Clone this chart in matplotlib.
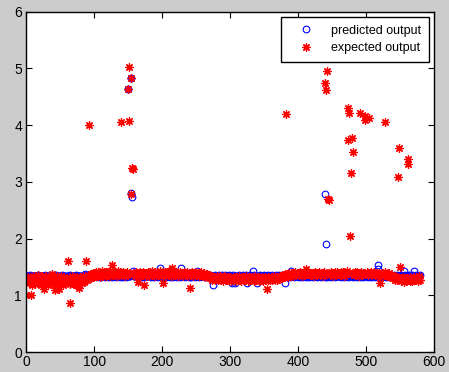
import numpy as np
import matplotlib
matplotlib.use("Agg")
import matplotlib.pyplot as plt

# values in hundredths (value = n / 100), sample index 0..579
expected_h = [
101,130,125,133,128,122,131,101,127,118,135,124,129,120,133,126,130,123,136,128,
125,132,119,134,127,130,122,111,129,135,124,131,126,118,133,128,121,130,137,125,
129,123,132,109,126,134,120,128,131,111,124,135,127,122,130,119,133,126,129,124,
131,161,125,128,120,86,130,123,134,127,121,132,126,129,119,133,124,128,113,130,
126,133,122,129,135,124,131,127,161,128,132,136,130,400,134,138,131,137,133,140,
136,139,134,141,137,135,142,138,133,140,136,143,138,135,141,137,139,134,142,138,
136,140,137,143,135,139,141,153,138,136,142,137,140,135,139,143,136,138,141,137,
406,139,136,141,138,135,140,137,142,136,463,407,503,139,483,278,325,322,137,140,
134,138,141,136,139,123,137,142,135,140,138,136,141,119,139,137,134,140,136,142,
138,135,141,137,139,143,136,140,138,134,142,137,139,141,136,140,138,143,135,139,
137,122,140,136,142,138,135,141,139,137,143,136,140,138,148,135,141,137,139,142,
136,140,138,135,141,137,139,142,136,140,138,134,141,137,139,136,142,138,135,140,
137,114,139,136,141,138,135,140,137,139,142,136,138,140,135,139,137,141,136,138,
135,139,136,133,138,134,137,132,136,133,131,135,130,134,128,132,129,133,127,131,
130,134,128,132,129,135,127,131,133,130,126,134,129,132,128,131,127,133,130,128,
132,129,126,131,128,133,127,130,125,132,129,131,127,134,128,130,126,133,129,131,
128,132,127,130,134,129,126,131,128,133,130,127,132,129,131,126,134,128,130,127,
131,129,126,133,128,130,127,132,125,131,129,128,133,130,111,127,132,129,131,128,
130,133,128,131,129,134,127,132,130,128,133,131,129,135,132,130,134,131,133,136,
134,137,419,135,138,133,136,139,135,137,140,136,138,134,139,137,141,136,138,140,
137,139,136,141,138,135,140,137,142,139,136,146,138,140,137,141,139,136,140,138,
136,140,137,139,135,141,138,136,140,137,139,142,136,138,140,137,135,139,141,138,
474,462,137,496,270,140,268,136,141,138,139,135,140,137,142,138,136,141,139,137,
140,138,136,142,139,137,141,138,135,140,137,139,143,430,373,422,205,138,315,378,
352,139,137,141,136,140,138,142,137,139,135,422,141,138,136,140,137,139,409,416,
138,141,136,140,412,137,139,142,136,138,140,137,141,136,139,138,140,135,137,139,
136,122,138,140,135,139,137,406,141,136,138,134,137,140,135,133,136,132,134,131,
133,130,135,128,132,129,127,309,131,359,151,126,130,128,133,124,129,131,125,130,
127,332,340,129,126,132,128,131,125,130,133,127,129,132,128,131,126,130,134,127,
]

predicted_h = [
135,134,134,135,133,134,136,135,134,133,134,135,134,134,133,135,134,136,134,133,
134,135,133,134,120,135,134,133,136,134,135,133,134,135,134,133,135,134,136,134,
133,134,135,134,136,133,134,135,133,134,135,134,133,136,134,135,134,133,135,134,
134,133,135,134,136,134,133,135,134,134,135,133,134,136,135,134,133,134,135,134,
135,134,133,135,134,136,138,134,135,133,134,135,136,134,133,135,134,136,134,135,
134,135,136,134,133,135,134,136,135,134,133,135,134,136,134,135,133,134,135,136,
135,134,133,135,136,134,135,133,134,136,135,134,133,135,134,136,134,135,133,134,
134,135,133,134,136,135,134,133,135,134,463,134,135,134,483,280,274,144,135,134,
135,134,136,133,134,135,134,136,135,133,134,135,136,134,133,135,134,136,135,134,
134,136,135,133,134,135,136,134,133,135,134,136,135,134,133,135,134,148,136,134,
135,133,134,136,135,134,133,135,136,134,135,133,134,136,135,134,133,135,134,136,
134,135,133,134,136,135,134,133,148,134,135,136,134,133,135,134,136,135,134,133,
135,134,136,133,134,135,134,136,135,133,134,144,136,134,133,135,134,136,135,134,
134,136,135,133,134,135,136,134,133,135,134,136,135,134,133,119,134,135,136,134,
135,133,134,136,135,134,133,135,136,134,135,133,134,136,135,134,133,135,134,136,
134,135,133,122,136,135,134,122,135,134,133,135,134,136,134,135,133,134,135,136,
135,134,133,135,136,122,135,133,134,136,135,134,133,144,134,136,134,135,133,122,
134,135,133,134,136,135,134,133,135,134,136,135,134,133,135,134,136,134,135,133,
135,134,136,133,134,135,134,136,135,133,134,135,136,134,133,135,134,136,135,134,
134,122,135,133,134,135,136,134,133,135,144,136,135,134,133,135,134,136,135,134,
135,133,134,136,135,134,133,135,136,134,135,133,134,136,135,134,133,135,134,136,
134,135,133,134,136,135,134,133,135,134,136,135,134,133,135,134,136,134,135,133,
279,191,136,133,134,135,134,136,135,133,134,135,136,134,133,135,134,136,135,134,
134,136,135,133,134,135,136,134,133,135,134,136,135,134,133,135,134,136,135,134,
135,133,134,136,135,134,133,135,136,134,135,133,134,136,135,134,133,135,134,136,
134,135,133,134,136,135,134,133,135,134,136,135,134,133,135,134,136,153,146,133,
135,134,136,133,134,135,134,136,135,133,134,135,136,134,133,135,134,136,135,134,
134,136,135,133,134,135,136,134,133,135,134,136,135,134,133,144,134,136,135,134,
135,133,134,136,135,134,133,135,136,134,144,133,134,136,135,134,133,135,134,136,
]

x_ticks = [0, 100, 200, 300, 400, 500, 600]
y_ticks = [0, 1, 2, 3, 4, 5, 6]
labels = ["predicted output", "expected output"]

x = np.arange(len(expected_h))
expected = np.array(expected_h) / 100.0
predicted = np.array(predicted_h) / 100.0

plt.rcParams['font.family'] = ['Liberation Sans', 'DejaVu Sans']

fig = plt.figure(figsize=(4.49, 3.72), dpi=100, facecolor='#cccccc')
ax = fig.add_axes([0.058, 0.053, 0.909, 0.916])
ax.set_facecolor('white')

ax.plot(x, predicted, linestyle='none', marker='o', markersize=4.8,
        markerfacecolor='none', markeredgecolor='#0000ff', markeredgewidth=0.8,
        label=labels[0])
ax.plot(x, expected, linestyle='none', marker=(8, 2, 0), markersize=6,
        color='#ff0000', markeredgecolor='#ff0000', markeredgewidth=0.9,
        label=labels[1])

ax.set_xlim(0, 600)
ax.set_ylim(0, 6)
ax.set_xticks(x_ticks)
ax.set_yticks(y_ticks)
ax.tick_params(direction='in', top=True, right=True, length=4, width=0.8,
               labelsize=10, pad=2, colors='black')
ax.tick_params(axis='y', pad=3)
for s in ax.spines.values():
    s.set_linewidth(1.0)
    s.set_color('black')

leg = ax.legend(loc='upper right', fancybox=False, framealpha=1, edgecolor='black',
                fontsize=9, borderaxespad=0.45, handletextpad=0.6, borderpad=0.6,
                labelspacing=0.45, handlelength=2.8)
leg.get_frame().set_linewidth(1.0)

fig.savefig('out.png', dpi=100, facecolor=fig.get_facecolor())
